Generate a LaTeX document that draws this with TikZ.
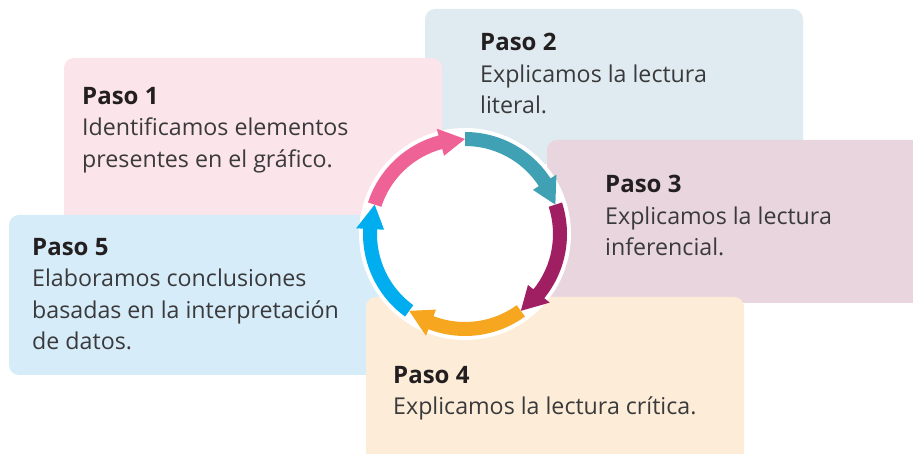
\documentclass[tikz,border=0pt]{standalone}
\usepackage{fontspec}
\setmainfont{Open Sans}
\usetikzlibrary{positioning}
\definecolor{pinkBox}{HTML}{FBE4EA}
\definecolor{grayBox}{HTML}{DFEBF0}
\definecolor{mauveBox}{HTML}{E8D5DD}
\definecolor{creamBox}{HTML}{FDEDD8}
\definecolor{skyBox}{HTML}{D6ECF9}
\definecolor{pinkArr}{HTML}{EF6296}
\definecolor{tealArr}{HTML}{40A1B5}
\definecolor{plumArr}{HTML}{A01E62}
\definecolor{orangeArr}{HTML}{F7A620}
\definecolor{blueArr}{HTML}{00AEEF}
\definecolor{txtGray}{HTML}{3A3A3C}
\definecolor{titleBlack}{HTML}{231F20}
% one arrow of the ring: colour, start angle, end angle (tip)
\newcommand{\pasoarrow}[3]{%
  \fill[#1] (#2:102) arc[start angle=#2, end angle=#3+15, radius=102]
    -- (#3+15:109) -- (#3:95) -- (#3+15:81) -- (#3+15:88)
    arc[start angle=#3+15, end angle=#2, radius=88] -- cycle;}

\begin{document}
\begin{tikzpicture}[x=1pt, y=1pt,
  pasobox/.style={rounded corners=10pt},
  paso/.style={anchor=north west, inner sep=0pt, align=left, text=txtGray,
               font=\fontsize{23.2}{31.5}\selectfont},
]
  \useasboundingbox (0,0) rectangle (913,454);
  \clip (0,0) rectangle (913,454);

  % boxes, back to front
  \fill[pasobox, grayBox]  (425,445) rectangle (803,290);
  \fill[pasobox, pinkBox]  (64,396)  rectangle (442,214);
  \fill[pasobox, mauveBox] (547,314) rectangle (940,151);
  \fill[pasobox, skyBox]   (9,239)   rectangle (400,79);
  \fill[pasobox, creamBox] (366,157) rectangle (744,-20);

  \node[paso] (paso1) at (82,367)
    {{\fontsize{24}{31.5}\selectfont\bfseries\color{titleBlack}Paso 1}\\
     Identificamos elementos\\ presentes en el gráfico.};
  \node[paso] (paso2) at (480,421)
    {{\fontsize{24}{31.5}\selectfont\bfseries\color{titleBlack}Paso 2}\\
     Explicamos la lectura\\ literal.};
  \node[paso] (paso3) at (605,279)
    {{\fontsize{24}{31.5}\selectfont\bfseries\color{titleBlack}Paso 3}\\
     Explicamos la lectura\\ inferencial.};
  \node[paso] (paso4) at (393,88)
    {{\fontsize{24}{31.5}\selectfont\bfseries\color{titleBlack}Paso 4}\\
     Explicamos la lectura crítica.};
  \node[paso] (paso5) at (32,216)
    {{\fontsize{24}{31.5}\selectfont\bfseries\color{titleBlack}Paso 5}\\
     Elaboramos conclusiones\\ basadas en la interpretación\\ de datos.};

  % ring
  \begin{scope}[shift={(465,220)}]
    \fill[white] (0,0) circle[radius=106];
    \pasoarrow{pinkArr}{162}{90}
    \pasoarrow{tealArr}{90}{18}
    \pasoarrow{plumArr}{18}{-54}
    \pasoarrow{orangeArr}{-54}{-126}
    \pasoarrow{blueArr}{-126}{-198}
  \end{scope}
\end{tikzpicture}
\end{document}
